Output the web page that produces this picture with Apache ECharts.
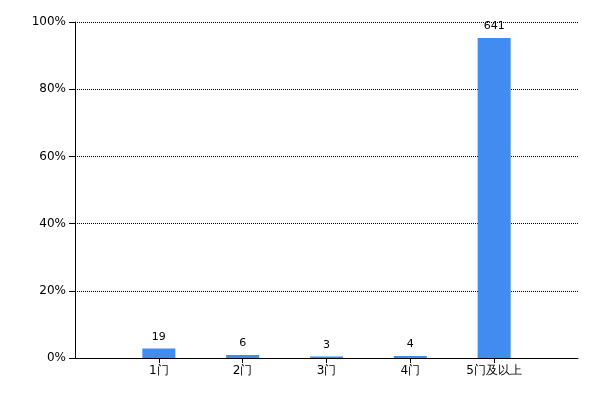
<!DOCTYPE html>
<html>
<head>
<meta charset="utf-8">
<script src="https://cdn.jsdelivr.net/npm/echarts@6/dist/echarts.min.js"></script>
<style>html,body{margin:0;padding:0;background:#fff;}#c{width:600px;height:400px;}</style>
</head>
<body>
<div id="c"></div>
<script>
var categories = ['1门', '2门', '3门', '4门', '5门及以上'];
var counts = [19, 6, 3, 4, 641];
var yTicks = [0, 20, 40, 60, 80, 100];

var total = counts.reduce(function (a, b) { return a + b; }, 0);
var barData = counts.map(function (c, i) { return [i + 1, c / total * 100]; });

var chart = echarts.init(document.getElementById('c'), null, { renderer: 'canvas' });
chart.setOption({
  animation: false,
  backgroundColor: '#ffffff',
  grid: { left: 75, right: 22, top: 22, bottom: 42, containLabel: false },
  xAxis: {
    type: 'value', min: 0, max: categories.length + 1, interval: 1,
    axisLine: { show: true, lineStyle: { color: '#000', width: 1 } },
    axisTick: { show: true, length: 5, lineStyle: { color: '#000' } },
    splitLine: { show: false },
    axisLabel: {
      color: '#000', fontSize: 12, fontFamily: 'DejaVu Sans, sans-serif', margin: 7,
      showMinLabel: false, showMaxLabel: false,
      formatter: function (v) { return categories[v - 1] || ''; }
    }
  },
  yAxis: {
    type: 'value', min: yTicks[0], max: yTicks[yTicks.length - 1], interval: 20,
    axisLine: { show: true, lineStyle: { color: '#000', width: 1 } },
    axisTick: { show: true, length: 6, lineStyle: { color: '#000' } },
    splitLine: { show: true, lineStyle: { color: '#000', type: [1, 1], width: 1 } },
    axisLabel: { color: '#000', fontSize: 12, fontFamily: 'DejaVu Sans, sans-serif', margin: 9,
      formatter: '{value}%' }
  },
  series: [{
    type: 'bar',
    data: barData,
    barWidth: 33,
    itemStyle: { color: '#418CF0' },
    label: {
      show: true, position: 'top', distance: 6, color: '#000', fontSize: 11,
      fontFamily: 'DejaVu Sans, sans-serif',
      formatter: function (p) { return String(counts[p.dataIndex]); }
    }
  }]
});
</script>
</body>
</html>
